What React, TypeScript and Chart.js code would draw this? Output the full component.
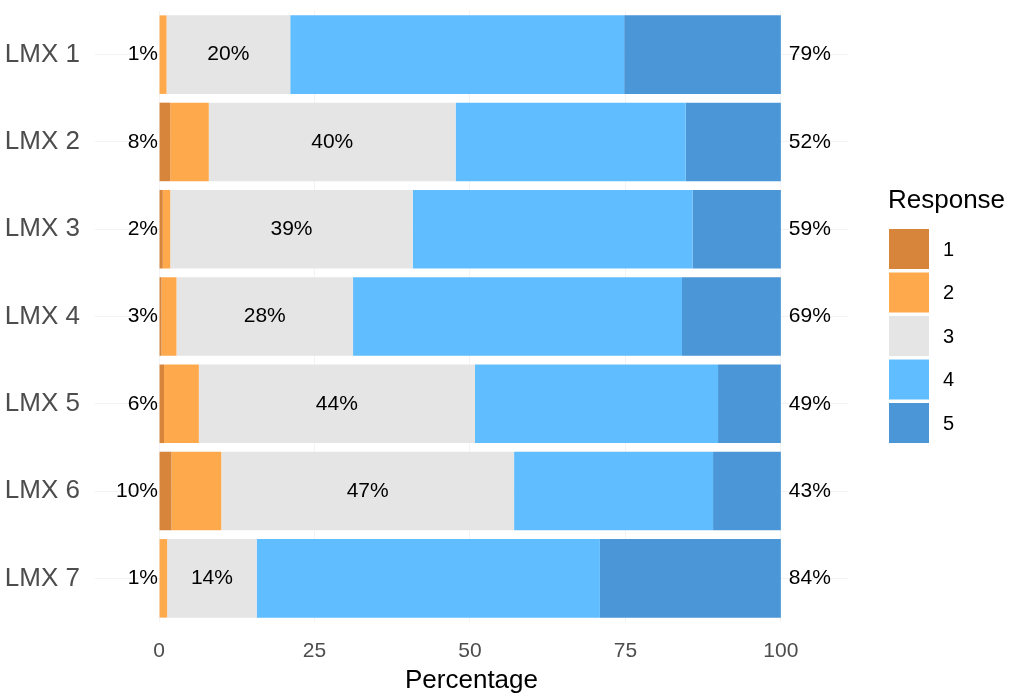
import { useEffect, useRef } from "react"
import Chart from "chart.js/auto"
import type { ChartConfiguration, Plugin } from "chart.js"

const items = ["LMX 1", "LMX 2", "LMX 3", "LMX 4", "LMX 5", "LMX 6", "LMX 7"]
const responses = ["1", "2", "3", "4", "5"]
const colors = ["#D6853B", "#FFA94D", "#E5E5E5", "#60BDFF", "#4A96D6"]

// percentage of answers per response level, one array per level
const resp1 = [0.0, 1.8, 0.6, 0.4, 0.8, 2.0, 0.0]
const resp2 = [1.2, 6.2, 1.2, 2.4, 5.6, 8.0, 1.3]
const resp3 = [19.9, 39.7, 39.0, 28.4, 44.4, 47.1, 14.4]
const resp4 = [53.7, 37.0, 45.0, 52.9, 39.1, 32.0, 55.2]
const resp5 = [25.2, 15.3, 14.2, 15.9, 10.1, 10.9, 29.1]

const xTicks = [0, 25, 50, 75, 100]

const FONT = "'Liberation Sans', Arial, sans-serif"

// low / neutral / high percentages written next to and inside the bars
const percentLabels: Plugin<"bar"> = {
  id: "percentLabels",
  afterDatasetsDraw(chart) {
    const { ctx } = chart
    const x = chart.scales.x
    const y = chart.scales.y
    ctx.save()
    ctx.font = `21px ${FONT}`
    ctx.fillStyle = "#000"
    ctx.textBaseline = "middle"
    items.forEach((_, i) => {
      const py = y.getPixelForValue(i)
      const low = resp1[i] + resp2[i]
      const high = resp4[i] + resp5[i]
      ctx.textAlign = "right"
      ctx.fillText(`${Math.round(low)}%`, x.getPixelForValue(0) - 1, py)
      ctx.textAlign = "center"
      ctx.fillText(`${Math.round(resp3[i])}%`, x.getPixelForValue(low + resp3[i] / 2), py)
      ctx.textAlign = "left"
      ctx.fillText(`${Math.round(high)}%`, x.getPixelForValue(100) + 8, py)
    })
    ctx.restore()
  },
}

// ggplot-ish legend: title and touching key squares
const keyLegend: Plugin<"bar"> = {
  id: "keyLegend",
  afterDraw(chart) {
    const { ctx } = chart
    const left = chart.chartArea.right + 41
    ctx.save()
    ctx.fillStyle = "#000"
    ctx.textBaseline = "middle"
    ctx.textAlign = "left"
    ctx.font = `26px ${FONT}`
    ctx.fillText("Response", left - 1, 201)
    ctx.font = `20px ${FONT}`
    chart.data.datasets.forEach((ds, i) => {
      const top = 229 + i * 43.5
      ctx.fillStyle = ds.backgroundColor as string
      ctx.fillRect(left, top, 40, 40)
      ctx.fillStyle = "#000"
      ctx.fillText(responses[i], left + 54, top + 21)
    })
    ctx.restore()
  },
}

export default function App() {
  const ref = useRef<HTMLCanvasElement>(null)

  useEffect(() => {
    if (!ref.current) return
    const series = [resp1, resp2, resp3, resp4, resp5]
    const config: ChartConfiguration<"bar"> = {
      type: "bar",
      data: {
        labels: items,
        datasets: series.map((d, i) => ({
          label: responses[i],
          data: d,
          backgroundColor: colors[i],
          borderWidth: 0,
          barPercentage: 0.9,
          categoryPercentage: 1,
        })),
      },
      options: {
        indexAxis: "y",
        animation: false,
        responsive: true,
        maintainAspectRatio: false,
        layout: { padding: { top: 11, right: 167, bottom: 0, left: 0 } },
        plugins: { legend: { display: false }, tooltip: { enabled: false } },
        scales: {
          x: {
            stacked: true,
            min: -10.3,
            max: 110.8,
            afterBuildTicks: (s) => {
              s.ticks = xTicks.map((v) => ({ value: v }))
            },
            afterFit: (s) => {
              s.height = 76
            },
            grid: { color: "#F3F3F3", drawTicks: false },
            border: { display: false },
            ticks: { color: "#4D4D4D", font: { size: 21, family: FONT }, padding: 17, maxRotation: 0 },
            title: {
              display: true,
              text: "Percentage",
              color: "#000",
              font: { size: 26, family: FONT },
              padding: { top: 0, bottom: 2 },
            },
          },
          y: {
            stacked: true,
            afterFit: (s) => {
              s.width = 95
              s.paddingTop = 0
              s.paddingBottom = 0
            },
            grid: { color: "#F3F3F3", drawTicks: false, offset: false },
            border: { display: false },
            ticks: { color: "#4D4D4D", font: { size: 26, family: FONT }, padding: 15 },
          },
        },
      },
      plugins: [percentLabels, keyLegend],
    }
    const chart = new Chart(ref.current, config)
    return () => chart.destroy()
  }, [])

  return (
    <div style={{ position: "fixed", left: 0, top: 0, width: 1015, height: 698, background: "#fff" }}>
      <canvas ref={ref} />
    </div>
  )
}
